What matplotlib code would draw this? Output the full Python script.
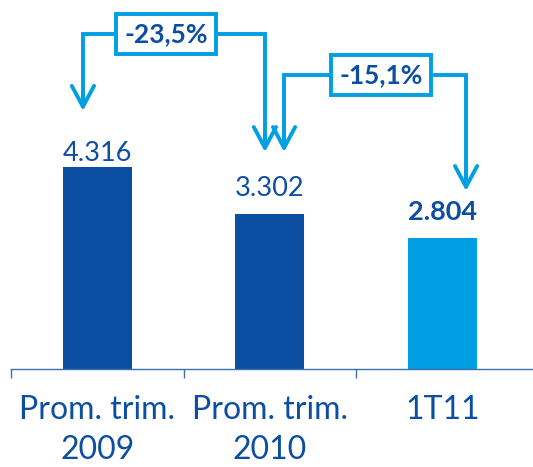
import matplotlib
matplotlib.use("Agg")
import matplotlib.pyplot as plt

categories = ["Prom. trim.\n2009", "Prom. trim.\n2010", "1T11"]
values = [4316, 3302, 2804]
value_labels = ["4.316", "3.302", "2.804"]
changes = ["-23,5%", "-15,1%"]

DARK = "#0C4FA2"
LIGHT = "#009FE3"
bar_colors = [DARK, DARK, LIGHT]
label_weights = ["normal", "normal", "bold"]
label_offsets = [1, 10, 10]  # points above bar

plt.rcParams["font.family"] = ["Lato", "DejaVu Sans"]

fig = plt.figure(figsize=(5.33, 4.67), dpi=100)
ax = fig.add_axes([11 / 533, 98 / 467, 522 / 533, 369 / 467])
ax.set_xlim(-0.5, -0.5 + 522 / 172.5)
ax.set_ylim(0, 369 / 0.0468)

x = list(range(len(values)))
ax.bar(x, values, width=0.4, color=bar_colors, zorder=2)

for xi, v, lab, w, off in zip(x, values, value_labels, label_weights, label_offsets):
    ax.annotate(lab, xy=(xi, v), xytext=(0, off), textcoords="offset points",
                ha="center", va="bottom", fontsize=19.5, color=DARK, fontweight=w)

# axes styling
for s in ["top", "left", "right"]:
    ax.spines[s].set_visible(False)
ax.spines["bottom"].set_color("#3E6FB0")
ax.spines["bottom"].set_linewidth(1.0)
ax.set_yticks([])
ax.set_xticks([-0.5, 0.5, 1.5])
ax.set_xticklabels([])
ax.tick_params(axis="x", which="major", length=6.5, width=1.0, color="#3E6FB0", direction="out")
ax.set_xticks(x, minor=True)
ax.set_xticklabels(categories, minor=True, fontsize=23, color=DARK, linespacing=1.42)
ax.tick_params(axis="x", which="minor", length=0, pad=19)

# change arrows: (from index, to index, left x offset, right x offset, level, left tip gap, right tip gap)
arrow_specs = [
    (0, 1, -0.083, -0.028, 7158, 1200, 1335),
    (1, 2, 0.083, 0.138, 6282, 1335, 1000),
]
LW = 2.8
for (i, j, dl, dr, level, gl, gr), txt in zip(arrow_specs, changes):
    xl = x[i] + dl
    xr = x[j] + dr
    tl = values[i] + gl
    tr = values[j] + gr
    ax.plot([xl, xl, xr, xr], [tl + 150, level, level, tr + 150], color=LIGHT, lw=LW,
            solid_joinstyle="miter", solid_capstyle="projecting", zorder=3)
    for xx, tt in [(xl, tl), (xr, tr)]:
        ax.annotate("", xy=(xx, tt), xytext=(xx, tt + 400),
                    arrowprops=dict(arrowstyle="->,head_length=0.75,head_width=0.4",
                                    lw=LW, color=LIGHT, shrinkA=0, shrinkB=0,
                                    mutation_scale=20), zorder=3)
    ax.text((xl + xr) / 2 - 0.045 if i == 0 else (xl + xr) / 2 + 0.035, level, txt,
            ha="center", va="center", fontsize=19, fontweight="bold", color=DARK, zorder=4,
            bbox=dict(boxstyle="square,pad=0.3", fc="white", ec=LIGHT, lw=LW))

fig.savefig("out.png", dpi=100)
